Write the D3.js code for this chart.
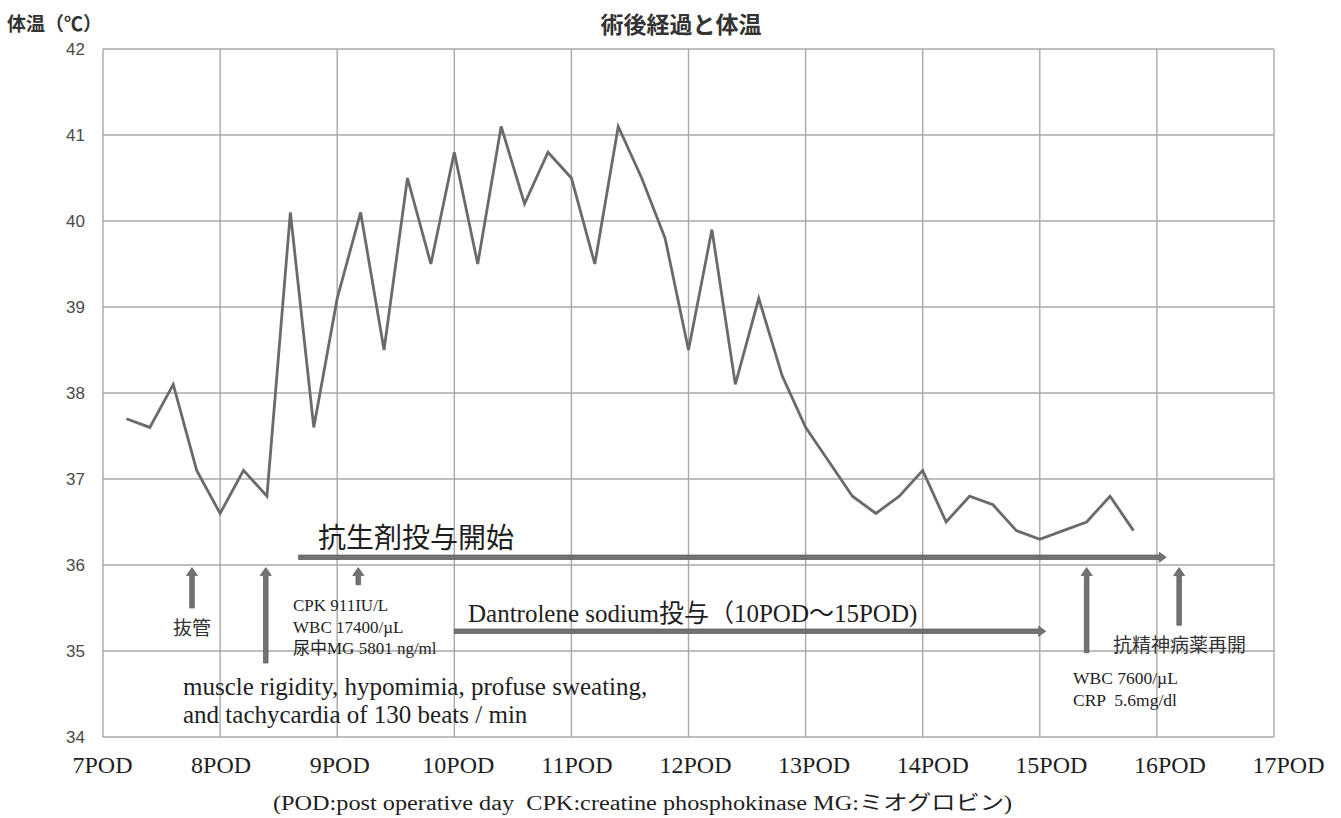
<!DOCTYPE html>
<html>
<head>
<meta charset="utf-8">
<script src="https://cdn.jsdelivr.net/npm/d3@7"></script>
<style>
  body { margin: 0; background: #fff; }
  .serif { font-family: "Liberation Serif", "Noto Sans CJK JP", serif; fill: #1e1e1e; }
  .jp { font-family: "Noto Sans CJK JP", sans-serif; fill: #333; }
</style>
</head>
<body>
<script>
(function(){

//temperature series, one reading every 0.2 day
var podTimes = [7.2, 7.4, 7.6, 7.8, 8.0, 8.2, 8.4, 8.6, 8.8, 9.0,
                9.2, 9.4, 9.6, 9.8, 10.0, 10.2, 10.4, 10.6, 10.8, 11.0,
                11.2, 11.4, 11.6, 11.8, 12.0, 12.2, 12.4, 12.6, 12.8, 13.0,
                13.2, 13.4, 13.6, 13.8, 14.0, 14.2, 14.4, 14.6, 14.8, 15.0,
                15.2, 15.4, 15.6, 15.8];
var bodyTemps = [37.7, 37.6, 38.1, 37.1, 36.6, 37.1, 36.8, 40.1, 37.6, 39.1,
                 40.1, 38.5, 40.5, 39.5, 40.8, 39.5, 41.1, 40.2, 40.8, 40.5,
                 39.5, 41.1, 40.5, 39.8, 38.5, 39.9, 38.1, 39.1, 38.2, 37.6,
                 37.2, 36.8, 36.6, 36.8, 37.1, 36.5, 36.8, 36.7, 36.4, 36.3,
                 36.4, 36.5, 36.8, 36.4];

var yTicks = [34, 35, 36, 37, 38, 39, 40, 41, 42];
var xTicks = [7, 8, 9, 10, 11, 12, 13, 14, 15, 16, 17];
var xTickLabels = ["7POD", "8POD", "9POD", "10POD", "11POD", "12POD",
                   "13POD", "14POD", "15POD", "16POD", "17POD"];

//event markers (POD, temperature units)
var upArrows = [
    {pod: 7.76, top: 35.97, bottom: 35.5},
    {pod: 8.39, top: 35.97, bottom: 34.86},
    {pod: 9.18, top: 35.97, bottom: 35.77},
    {pod: 15.4, top: 35.97, bottom: 34.98},
    {pod: 16.19, top: 35.97, bottom: 35.3}
];
var spanArrows = [
    {from: 8.67, to: 16.08, temp: 36.09},
    {from: 10.0, to: 15.05, temp: 35.23}
];

var chartTitle = "術後経過と体温";
var yTitle = "体温（℃）";
var footNote = "(POD:post operative day  CPK:creatine phosphokinase MG:ミオグロビン)";

window.onload = drawChart();

function drawChart(){
    var width = 1341,
        height = 818;

    var svg = d3.select("body")
        .append("svg")
        .attr("width", width)
        .attr("height", height);

    var x = d3.scaleLinear().domain([7, 17]).range([103, 1274]);
    var y = d3.scaleLinear().domain([34, 42]).range([737, 49]);
    //tick labels sit on a slightly wider spacing than the grid
    var xLabel = d3.scaleLinear().domain([7, 17]).range([102, 1288]);

    //grid
    svg.append("g").selectAll("line")
        .data(yTicks).enter().append("line")
        .attr("x1", x(7)).attr("x2", x(17))
        .attr("y1", function(d){ return y(d); })
        .attr("y2", function(d){ return y(d); })
        .attr("stroke", "#a8a8a8").attr("stroke-width", 1.4);
    svg.append("g").selectAll("line")
        .data(xTicks).enter().append("line")
        .attr("y1", y(34)).attr("y2", y(42))
        .attr("x1", function(d){ return x(d); })
        .attr("x2", function(d){ return x(d); })
        .attr("stroke", "#a8a8a8").attr("stroke-width", 1.4);

    //y axis labels
    var yAxis = svg.append("g")
        .attr("transform", "translate(" + x(7) + ",0)")
        .call(d3.axisLeft(y).tickValues(yTicks).tickSize(0).tickPadding(18));
    yAxis.select(".domain").remove();
    yAxis.selectAll("text")
        .style("font-family", "'Liberation Sans', sans-serif")
        .style("font-size", "17px")
        .attr("fill", "#4a4a4a");

    //x axis labels
    var xAxis = svg.append("g")
        .attr("transform", "translate(0," + 754 + ")")
        .call(d3.axisBottom(xLabel).tickValues(xTicks).tickSize(0).tickPadding(0)
            .tickFormat(function(d, i){ return xTickLabels[i]; }));
    xAxis.select(".domain").remove();
    xAxis.selectAll("text")
        .attr("class", "serif")
        .attr("dy", "0.8em")
        .style("font-size", "24px");

    //temperature line
    var line = d3.line()
        .x(function(d){ return x(d[0]); })
        .y(function(d){ return y(d[1]); });
    svg.append("path")
        .datum(d3.zip(podTimes, bodyTemps))
        .attr("d", line)
        .attr("fill", "none")
        .attr("stroke", "#6a6a6a")
        .attr("stroke-width", 2.8)
        .attr("stroke-linejoin", "miter");

    drawArrows(svg, x, y);
    drawTexts(svg, x, y);
};

function drawArrows(svg, x, y){
    var fill = "#727272", edge = "#555";

    svg.append("g").selectAll("path")
        .data(upArrows).enter().append("path")
        .attr("d", function(d){
            var cx = x(d.pod), t = y(d.top), b = y(d.bottom);
            return "M" + cx + "," + t +
                "L" + (cx + 5.5) + "," + (t + 8) +
                "L" + (cx + 2.3) + "," + (t + 8) +
                "L" + (cx + 2.3) + "," + b +
                "L" + (cx - 2.3) + "," + b +
                "L" + (cx - 2.3) + "," + (t + 8) +
                "L" + (cx - 5.5) + "," + (t + 8) + "Z";
        })
        .attr("fill", fill).attr("stroke", edge).attr("stroke-width", 0.7);

    svg.append("g").selectAll("path")
        .data(spanArrows).enter().append("path")
        .attr("d", function(d){
            var l = x(d.from), r = x(d.to), cy = y(d.temp);
            return "M" + r + "," + cy +
                "L" + (r - 7) + "," + (cy - 5) +
                "L" + (r - 7) + "," + (cy - 2.2) +
                "L" + l + "," + (cy - 2.2) +
                "L" + l + "," + (cy + 2.2) +
                "L" + (r - 7) + "," + (cy + 2.2) +
                "L" + (r - 7) + "," + (cy + 5) + "Z";
        })
        .attr("fill", fill).attr("stroke", edge).attr("stroke-width", 0.7);
};

function addText(svg, cls, str, tx, ty, size, anchor){
    return svg.append("text")
        .attr("class", cls)
        .attr("x", tx).attr("y", ty)
        .attr("text-anchor", anchor || "start")
        .style("font-size", size + "px")
        .style("white-space", "pre")
        .text(str);
};

function drawTexts(svg, x, y){
    //titles
    addText(svg, "jp", chartTitle, 681, 33, 23, "middle")
        .style("font-weight", "bold").attr("fill", "#3a3a3a");
    addText(svg, "jp", yTitle, 7, 31, 19)
        .style("font-weight", "bold").attr("fill", "#222");

    //annotations
    addText(svg, "serif", "抗生剤投与開始", 318, 548, 28);
    addText(svg, "jp", "抜管", 192, 635, 19, "middle");
    addText(svg, "serif", "CPK 911IU/L", 293, 611, 17);
    addText(svg, "serif", "WBC 17400/µL", 293, 633, 17);
    addText(svg, "serif", "尿中MG 5801 ng/ml", 293, 654, 17);
    addText(svg, "serif", "Dantrolene sodium投与（10POD〜15POD)", 468, 622, 25);
    addText(svg, "serif", "muscle rigidity, hypomimia, profuse sweating,", 183, 695, 25);
    addText(svg, "serif", "and tachycardia of 130 beats / min", 183, 723, 25);
    addText(svg, "jp", "抗精神病薬再開", 1113, 652, 19);
    addText(svg, "serif", "WBC 7600/µL", 1073, 684, 17.5);
    addText(svg, "serif", "CRP  5.6mg/dl", 1073, 706, 17.5);

    //footnote
    addText(svg, "serif", footNote, 273, 810, 20)
        .attr("textLength", 739)
        .attr("lengthAdjust", "spacingAndGlyphs")
        .attr("fill", "#333");
};

})();
</script>
</body>
</html>
